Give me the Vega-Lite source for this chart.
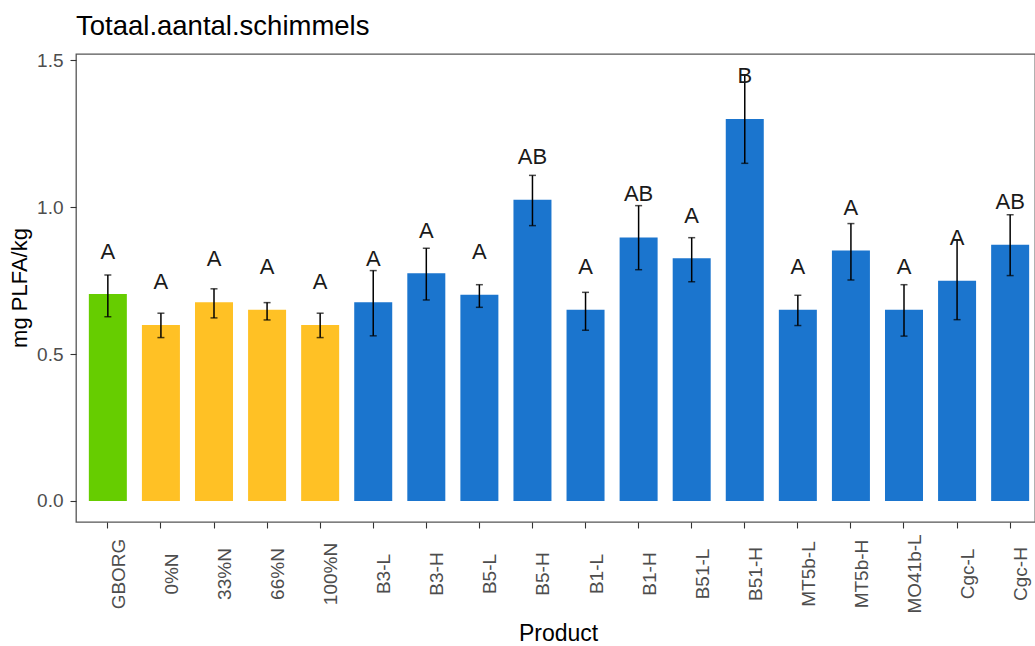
{
  "$schema": "https://vega.github.io/schema/vega-lite/v6.json",
  "autosize": {"type": "none"},
  "padding": {"left": 76, "top": 54, "right": 0, "bottom": 124},
  "width": 959,
  "height": 468,
  "background": "white",
  "title": {
    "text": "Totaal.aantal.schimmels",
    "anchor": "start",
    "frame": "group",
    "font": "Liberation Sans",
    "fontSize": 27.5,
    "fontWeight": "normal",
    "color": "#000000",
    "baseline": "alphabetic",
    "offset": 19,
    "dy": 30
  },
  "config": {
    "view": {"stroke": "#555555", "strokeWidth": 1.3},
    "font": "Liberation Sans",
    "axis": {"domain": false, "grid": false, "tickColor": "#333333", "tickSize": 6, "tickWidth": 1.1,
      "labelFont": "Liberation Sans", "titleFont": "Liberation Sans", "labelColor": "#4D4D4D", "titleColor": "#000000", "titleFontWeight": "normal"}
  },
  "data": {"values": [
    {"product": "GBORG", "grp": "G", "mean": 0.704, "lo": 0.627, "hi": 0.769, "lab": 0.846, "letter": "A"},
    {"product": "0%N", "grp": "N", "mean": 0.599, "lo": 0.556, "hi": 0.639, "lab": 0.745, "letter": "A"},
    {"product": "33%N", "grp": "N", "mean": 0.676, "lo": 0.623, "hi": 0.722, "lab": 0.824, "letter": "A"},
    {"product": "66%N", "grp": "N", "mean": 0.651, "lo": 0.616, "hi": 0.675, "lab": 0.797, "letter": "A"},
    {"product": "100%N", "grp": "N", "mean": 0.599, "lo": 0.556, "hi": 0.639, "lab": 0.745, "letter": "A"},
    {"product": "B3-L", "grp": "B", "mean": 0.676, "lo": 0.562, "hi": 0.784, "lab": 0.824, "letter": "A"},
    {"product": "B3-H", "grp": "B", "mean": 0.775, "lo": 0.684, "hi": 0.860, "lab": 0.920, "letter": "A"},
    {"product": "B5-L", "grp": "B", "mean": 0.702, "lo": 0.659, "hi": 0.736, "lab": 0.848, "letter": "A"},
    {"product": "B5-H", "grp": "B", "mean": 1.025, "lo": 0.937, "hi": 1.108, "lab": 1.171, "letter": "AB"},
    {"product": "B1-L", "grp": "B", "mean": 0.651, "lo": 0.581, "hi": 0.710, "lab": 0.795, "letter": "A"},
    {"product": "B1-H", "grp": "B", "mean": 0.897, "lo": 0.787, "hi": 1.005, "lab": 1.043, "letter": "AB"},
    {"product": "B51-L", "grp": "B", "mean": 0.826, "lo": 0.746, "hi": 0.896, "lab": 0.971, "letter": "A"},
    {"product": "B51-H", "grp": "B", "mean": 1.300, "lo": 1.149, "hi": 1.449, "lab": 1.446, "letter": "B"},
    {"product": "MT5b-L", "grp": "B", "mean": 0.651, "lo": 0.597, "hi": 0.700, "lab": 0.796, "letter": "A"},
    {"product": "MT5b-H", "grp": "B", "mean": 0.852, "lo": 0.752, "hi": 0.944, "lab": 0.998, "letter": "A"},
    {"product": "MO41b-L", "grp": "B", "mean": 0.651, "lo": 0.561, "hi": 0.736, "lab": 0.796, "letter": "A"},
    {"product": "Cgc-L", "grp": "B", "mean": 0.749, "lo": 0.617, "hi": 0.888, "lab": 0.896, "letter": "A"},
    {"product": "Cgc-H", "grp": "B", "mean": 0.872, "lo": 0.767, "hi": 0.974, "lab": 1.018, "letter": "AB"}
  ]},
  "encoding": {
    "x": {
      "field": "product", "type": "nominal", "sort": null,
      "scale": {"type": "band", "range": [0, 966], "paddingInner": 0.284, "paddingOuter": 0.242},
      "axis": {
        "title": "Product", "titleFontSize": 23, "titleX": 482, "titleY": 118.7, "titleBaseline": "alphabetic", "titleAlign": "center", "titleAnchor": null,
        "labelAngle": 270, "labelAlign": "center", "labelBaseline": "alphabetic", "labelOffset": 17, "labelPadding": 45.5, "labelFontSize": 19
      }
    }
  },
  "layer": [
    {
      "mark": {"type": "bar"},
      "encoding": {
        "y": {"field": "mean", "type": "quantitative",
          "scale": {"domain": [-0.0715, 1.521], "nice": false, "zero": false},
          "axis": {"title": "mg PLFA/kg", "values": [0, 0.5, 1, 1.5], "format": ".1f",
            "labelFontSize": 19, "labelPadding": 7,
            "titleFontSize": 22, "titleX": -50, "titleY": 233.5, "titleBaseline": "alphabetic", "titleAlign": "center", "titleAngle": 270, "titleAnchor": null}},
        "y2": {"datum": 0},
        "color": {"field": "grp", "type": "nominal", "legend": null,
          "scale": {"domain": ["G", "N", "B"], "range": ["#66CD00", "#FFC125", "#1B75CE"]}}
      }
    },
    {
      "mark": {"type": "rule", "color": "#000000", "strokeWidth": 1.5},
      "encoding": {
        "y": {"field": "lo", "type": "quantitative"},
        "y2": {"field": "hi"}
      }
    },
    {
      "mark": {"type": "tick", "color": "#000000", "size": 7, "thickness": 1.5, "orient": "horizontal"},
      "encoding": {"y": {"field": "lo", "type": "quantitative"}}
    },
    {
      "mark": {"type": "tick", "color": "#000000", "size": 7, "thickness": 1.5, "orient": "horizontal"},
      "encoding": {"y": {"field": "hi", "type": "quantitative"}}
    },
    {
      "mark": {"type": "text", "font": "Liberation Sans", "fontSize": 22, "color": "#1A1A1A", "baseline": "middle", "align": "center"},
      "encoding": {
        "y": {"field": "lab", "type": "quantitative"},
        "text": {"field": "letter", "type": "nominal"}
      }
    }
  ]
}
